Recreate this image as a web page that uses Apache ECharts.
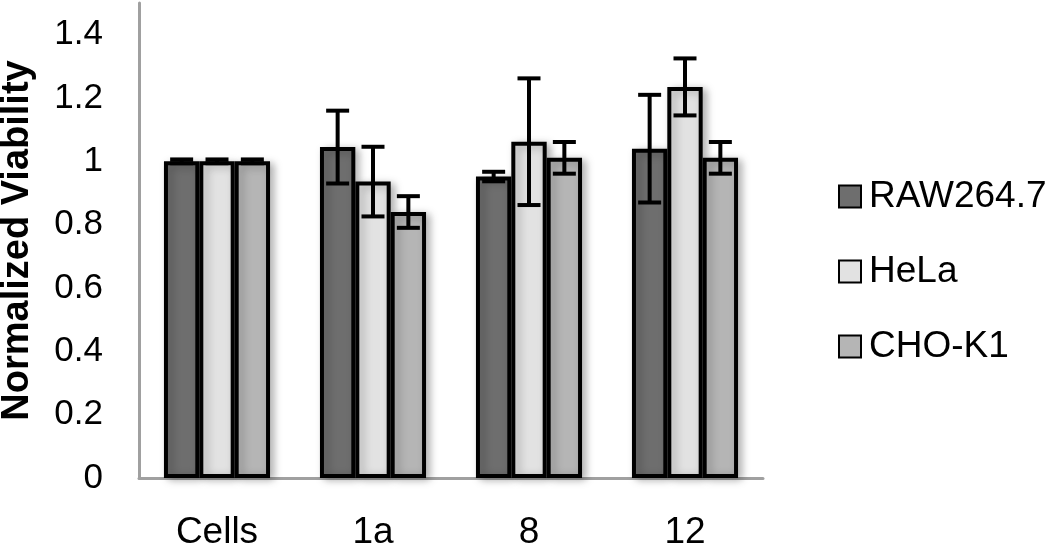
<!DOCTYPE html>
<html>
<head>
<meta charset="utf-8">
<script src="https://cdn.jsdelivr.net/npm/echarts@6/dist/echarts.min.js"></script>
<style>
  html, body { margin: 0; padding: 0; background: #fff; }
  #chart { width: 1050px; height: 544px; }
</style>
</head>
<body>
<div id="chart"></div>
<script>
var categories = ['Cells', '1a', '8', '12'];
var seriesNames = ['RAW264.7', 'HeLa', 'CHO-K1'];
var rawValues = [1.0, 1.045, 0.952, 1.04];
var rawErrors = [0.006, 0.115, 0.015, 0.17];
var helaValues = [1.0, 0.936, 1.062, 1.235];
var helaErrors = [0.006, 0.11, 0.2, 0.09];
var choValues = [1.0, 0.84, 1.011, 1.011];
var choErrors = [0.006, 0.05, 0.05, 0.05];

var values = [rawValues, helaValues, choValues];
var errors = [rawErrors, helaErrors, choErrors];
var colors = ['#6e6e6e', '#e2e2e2', '#b5b5b5'];
var catGap = 0.32;
var font = "'Liberation Sans', Arial, sans-serif";

var chart = echarts.init(document.getElementById('chart'));

function errRenderer(k) {
  return function (params, api) {
    var i = api.value(0), v = api.value(1), e = api.value(2);
    var c = api.coord([i, v]);
    var band = api.size([1, 0])[0];
    var w = band * (1 - catGap) / 3;
    var x = c[0] + (k - 1) * w;
    var hi = api.coord([i, v + e])[1];
    var lo = api.coord([i, v - e])[1];
    var st = { stroke: '#000', lineWidth: 4 };
    var half = 11.5;
    return {
      type: 'group',
      children: [
        { type: 'line', shape: { x1: x, y1: hi, x2: x, y2: lo }, style: st },
        { type: 'line', shape: { x1: x - half, y1: hi, x2: x + half, y2: hi }, style: st },
        { type: 'line', shape: { x1: x - half, y1: lo, x2: x + half, y2: lo }, style: st }
      ]
    };
  };
}

var series = [];
seriesNames.forEach(function (name, k) {
  series.push({
    name: name,
    type: 'bar',
    data: values[k],
    barGap: '0%',
    barCategoryGap: (catGap * 100) + '%',
    itemStyle: {
      color: colors[k],
      borderColor: '#000',
      borderWidth: 4,
      shadowBlur: 8,
      shadowColor: 'rgba(0,0,0,0.28)',
      shadowOffsetX: 4,
      shadowOffsetY: 2
    },
    emphasis: { disabled: true }
  });
});
seriesNames.forEach(function (name, k) {
  series.push({
    name: name + ' error',
    type: 'custom',
    renderItem: errRenderer(k),
    encode: { x: 0, y: 1 },
    data: values[k].map(function (v, i) { return [i, v, errors[k][i]]; }),
    z: 5,
    silent: true
  });
});

var option = {
  animation: false,
  grid: { left: 139, right: 287, top: 3, bottom: 66, outerBoundsMode: 'none', containLabel: false },
  legend: {
    data: seriesNames,
    orient: 'vertical',
    left: 833,
    top: 173,
    itemWidth: 22,
    itemHeight: 22,
    itemGap: 38,
    icon: 'rect',
    textStyle: { fontFamily: font, fontSize: 37, color: '#000', lineHeight: 37, padding: [0, 0, 0, 3] }
  },
  xAxis: {
    type: 'category',
    data: categories,
    axisLine: { lineStyle: { color: '#a0a0a0', width: 3 } },
    axisTick: { show: false },
    axisLabel: { fontFamily: font, fontSize: 37, color: '#000', margin: 36 }
  },
  yAxis: {
    type: 'value',
    min: 0,
    max: 1.5,
    interval: 0.2,
    name: 'Normalized Viability',
    nameLocation: 'middle',
    nameRotate: 90,
    nameGap: 102,
    nameTextStyle: { fontFamily: font, fontSize: 38, fontWeight: 'bold', color: '#000' },
    axisLine: { show: true, lineStyle: { color: '#a0a0a0', width: 3 } },
    axisTick: { show: false },
    splitLine: { show: false },
    axisLabel: { fontFamily: font, fontSize: 35, color: '#000', margin: 36, showMaxLabel: false }
  },
  series: series
};

chart.setOption(option);
</script>
</body>
</html>
